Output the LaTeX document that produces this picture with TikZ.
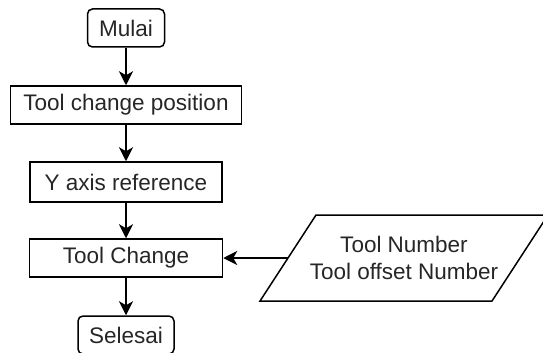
\documentclass[tikz,border=0pt]{standalone}
\usepackage{fontspec}
\setmainfont{Liberation Sans}
\usetikzlibrary{arrows.meta}
\begin{document}
\begin{tikzpicture}[x=1pt,y=-1pt,
  every node/.style={font=\fontsize{22.5}{27}\selectfont, text=black!85},
  procbox/.style={draw, line width=1.5pt, minimum height=38pt, inner sep=0pt},
  termbox/.style={procbox, rounded corners=5pt},
  outline/.style={line width=1.5pt},
  flow/.style={line width=1.5pt, -{Stealth[length=14pt,width=14pt,inset=4pt]}}]
  \useasboundingbox (0,0) rectangle (543,353);
  \clip (0,0) rectangle (543,353);

  % main column of steps
  \node[termbox, minimum width=77pt] (start) at (126,28) {Mulai};
  \node[procbox, minimum width=231pt] (tcpos) at (126,105) {Tool change position};
  \node[procbox, minimum width=192pt, minimum height=40pt] (yref) at (126,182) {Y axis reference};
  \node[procbox, minimum width=193pt] (tchg) at (126,258) {Tool Change};
  \node[termbox, minimum width=96pt] (finish) at (126,335) {Selesai};

  % input data (parallelogram)
  \draw[outline, line join=miter] (260,301) -- (316,215) -- (548,215) -- (492,301) -- cycle;
  \node[align=center, inner sep=0pt] (data) at (404,258) {Tool Number\\Tool offset Number};
  \coordinate (datain) at (288,258);

  \draw[flow] (start) -- (tcpos);
  \draw[flow] (tcpos) -- (yref);
  \draw[flow] (yref) -- (tchg);
  \draw[flow] (tchg) -- (finish);
  \draw[flow] (datain) -- (tchg.east);
\end{tikzpicture}
\end{document}
